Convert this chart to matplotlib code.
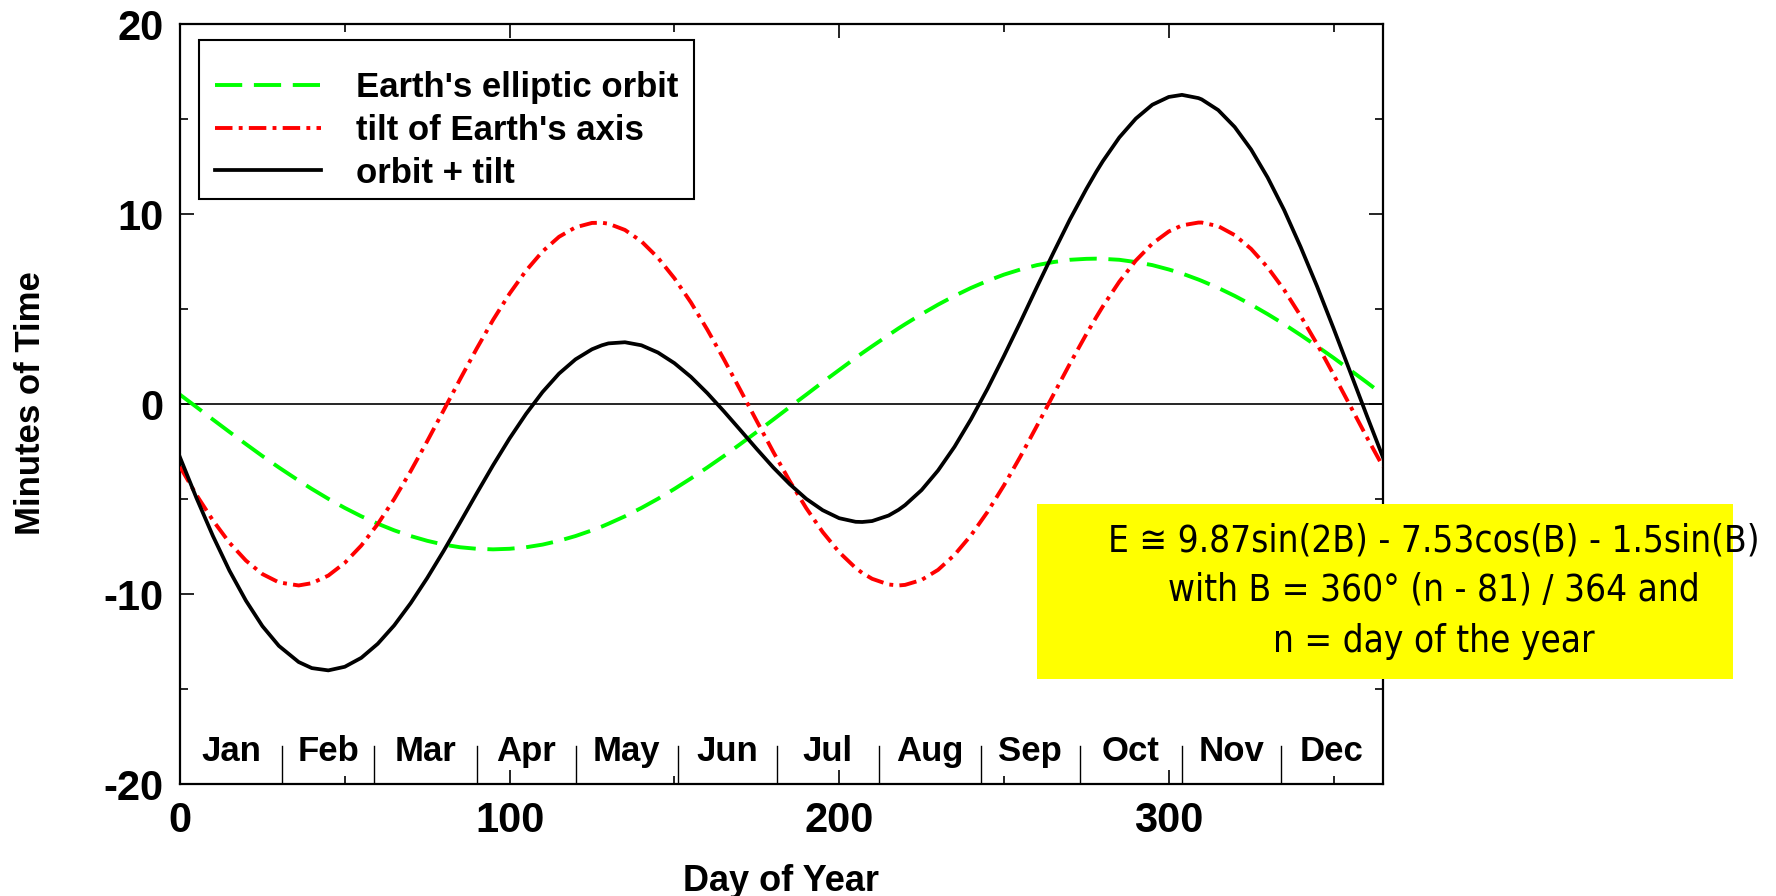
import matplotlib
matplotlib.use("Agg")
import matplotlib.pyplot as plt
from matplotlib.patches import Rectangle
from matplotlib.ticker import MultipleLocator

# values (minutes of time vs day of year)
days = [0, 5, 10, 15, 20, 25, 30, 36, 40, 45, 50, 55, 60, 65, 70, 75, 80, 85, 90, 95,
        100, 105, 110, 115, 120, 125, 128, 130, 135, 140, 145, 150, 155, 160, 165, 170,
        175, 180, 185, 190, 195, 200, 205, 207, 210, 215, 218, 220, 225, 230, 235, 240,
        245, 250, 255, 260, 265, 270, 275, 278, 280, 285, 290, 295, 300, 304, 309, 310,
        315, 320, 325, 330, 335, 340, 345, 350, 355, 360, 365]
orbit = [0.49, -0.16, -0.82, -1.47, -2.11, -2.74, -3.34, -4.03, -4.47, -4.99, -5.47,
         -5.91, -6.30, -6.65, -6.95, -7.20, -7.40, -7.54, -7.62, -7.65, -7.62, -7.54,
         -7.40, -7.20, -6.95, -6.65, -6.45, -6.30, -5.91, -5.47, -4.99, -4.47, -3.92,
         -3.34, -2.74, -2.11, -1.47, -0.82, -0.16, 0.49, 1.15, 1.79, 2.43, 2.68, 3.04,
         3.63, 3.98, 4.20, 4.73, 5.23, 5.69, 6.11, 6.48, 6.81, 7.08, 7.31, 7.47, 7.59,
         7.64, 7.65, 7.64, 7.59, 7.47, 7.31, 7.08, 6.87, 6.55, 6.48, 6.11, 5.69, 5.23,
         4.73, 4.20, 3.63, 3.04, 2.43, 1.79, 1.15, 0.49]
tilt = [-3.30, -4.79, -6.13, -7.30, -8.24, -8.95, -9.39, -9.55, -9.43, -9.03, -8.36,
        -7.45, -6.32, -5.00, -3.53, -1.96, -0.33, 1.31, 2.91, 4.43, 5.81, 7.02, 8.03,
        8.80, 9.30, 9.53, 9.54, 9.49, 9.16, 8.56, 7.70, 6.62, 5.35, 3.91, 2.36, 0.74,
        -0.90, -2.52, -4.06, -5.48, -6.74, -7.80, -8.63, -8.89, -9.20, -9.50, -9.55,
        -9.52, -9.26, -8.73, -7.94, -6.91, -5.68, -4.28, -2.76, -1.15, 0.49, 2.12, 3.68,
        4.57, 5.14, 6.44, 7.55, 8.44, 9.08, 9.40, 9.55, 9.55, 9.36, 8.89, 8.16, 7.19,
        6.01, 4.64, 3.15, 1.55, -0.08, -1.72, -3.30]
total = [-2.81, -4.95, -6.95, -8.77, -10.35, -11.69, -12.73, -13.58, -13.90, -14.02,
         -13.83, -13.36, -12.62, -11.65, -10.48, -9.16, -7.73, -6.23, -4.71, -3.22,
         -1.81, -0.52, 0.63, 1.60, 2.35, 2.88, 3.09, 3.19, 3.25, 3.09, 2.71, 2.15, 1.43,
         0.57, -0.38, -1.37, -2.37, -3.34, -4.22, -4.99, -5.59, -6.01, -6.20, -6.21,
         -6.16, -5.87, -5.57, -5.32, -4.53, -3.50, -2.25, -0.80, 0.80, 2.53, 4.32, 6.16,
         7.96, 9.71, 11.32, 12.22, 12.78, 14.03, 15.02, 15.75, 16.16, 16.27, 16.10,
         16.03, 15.47, 14.58, 13.39, 11.92, 10.21, 8.27, 6.19, 3.98, 1.71, -0.57, -2.81]

month_names = ["Jan", "Feb", "Mar", "Apr", "May", "Jun",
               "Jul", "Aug", "Sep", "Oct", "Nov", "Dec"]
month_bounds = [0, 31, 59, 90, 120, 151, 181, 212, 243, 273, 304, 334, 365]

formula_lines = [
    "E \u2245 9.87sin(2B) - 7.53cos(B) - 1.5sin(B)",
    "with B = 360\u00b0 (n - 81) / 364 and",
    "n = day of the year",
]

plt.rcParams["font.family"] = ["Liberation Sans", "DejaVu Sans"]
plt.rcParams["font.weight"] = "bold"
plt.rcParams["axes.unicode_minus"] = False

W, H = 1776, 896
fig = plt.figure(figsize=(W / 100, H / 100), dpi=100)
ax = fig.add_axes([180 / W, 1 - 784 / H, 1203 / W, 760 / H])

ax.axhline(0, color="black", lw=1.2, zorder=1)
ax.plot(days, orbit, color="#00ff00", lw=2.8, dashes=(7, 3),
        label="Earth's elliptic orbit", zorder=2)
ax.plot(days, tilt, color="#ff0000", lw=2.8, dashes=(4.5, 1.6, 1, 1.6),
        label="tilt of Earth's axis", zorder=3)
ax.plot(days, total, color="black", lw=2.7, solid_joinstyle="round",
        label="orbit + tilt", zorder=4)

# month separators and names along the bottom
for b in month_bounds[1:-1]:
    ax.plot([b, b], [-20, -18], color="black", lw=1.0, zorder=1)
for i, name in enumerate(month_names):
    mid = (month_bounds[i] + month_bounds[i + 1]) / 2
    ax.text(mid, -18.3, name, ha="center", va="center", fontsize=25)

ax.set_xlim(0, 365)
ax.set_ylim(-20, 20)
ax.xaxis.set_major_locator(MultipleLocator(100))
ax.xaxis.set_minor_locator(MultipleLocator(50))
ax.yaxis.set_major_locator(MultipleLocator(10))
ax.yaxis.set_minor_locator(MultipleLocator(5))
ax.tick_params(which="both", direction="in", top=True, right=True, width=1.2)
ax.tick_params(which="major", length=10, labelsize=30)
ax.tick_params(axis="x", which="major", pad=12)
ax.tick_params(axis="y", which="major", pad=12)
ax.tick_params(which="minor", length=5.5)
for s in ax.spines.values():
    s.set_linewidth(1.6)

fig.text(781 / W, 1 - 891 / H, "Day of Year", ha="center", va="baseline",
         fontsize=26)
fig.text(31 / W, 1 - 403 / H, "Minutes of Time", ha="center", va="center",
         rotation=90, fontsize=25)

# gnuplot-style key: frameless legend inside a plain box
ax.add_patch(Rectangle((0.0158, 0.7697), 0.4115, 0.2092, transform=ax.transAxes,
                       facecolor="white", edgecolor="black", lw=1.5, zorder=5))
leg = ax.legend(loc="upper left", bbox_to_anchor=(0.0291, 0.938), borderaxespad=0,
                fontsize=25, frameon=False, handlelength=3.05, handletextpad=1.0,
                borderpad=0, labelspacing=0.28)
leg.set_zorder(6)

# yellow formula box pasted over the right side
fig.add_artist(Rectangle((1037 / W, 1 - 679 / H), 696 / W, 175 / H,
                         transform=fig.transFigure, facecolor="#ffff00",
                         edgecolor="none", zorder=5))
for line, yp in zip(formula_lines, [541, 590, 641]):
    fig.text(1434 / W, 1 - yp / H, line, ha="center", va="center", fontsize=26.5,
             fontweight="normal", fontstretch="condensed",
             family=["DejaVu Sans"], zorder=6)

fig.savefig("out.png", dpi=100)
